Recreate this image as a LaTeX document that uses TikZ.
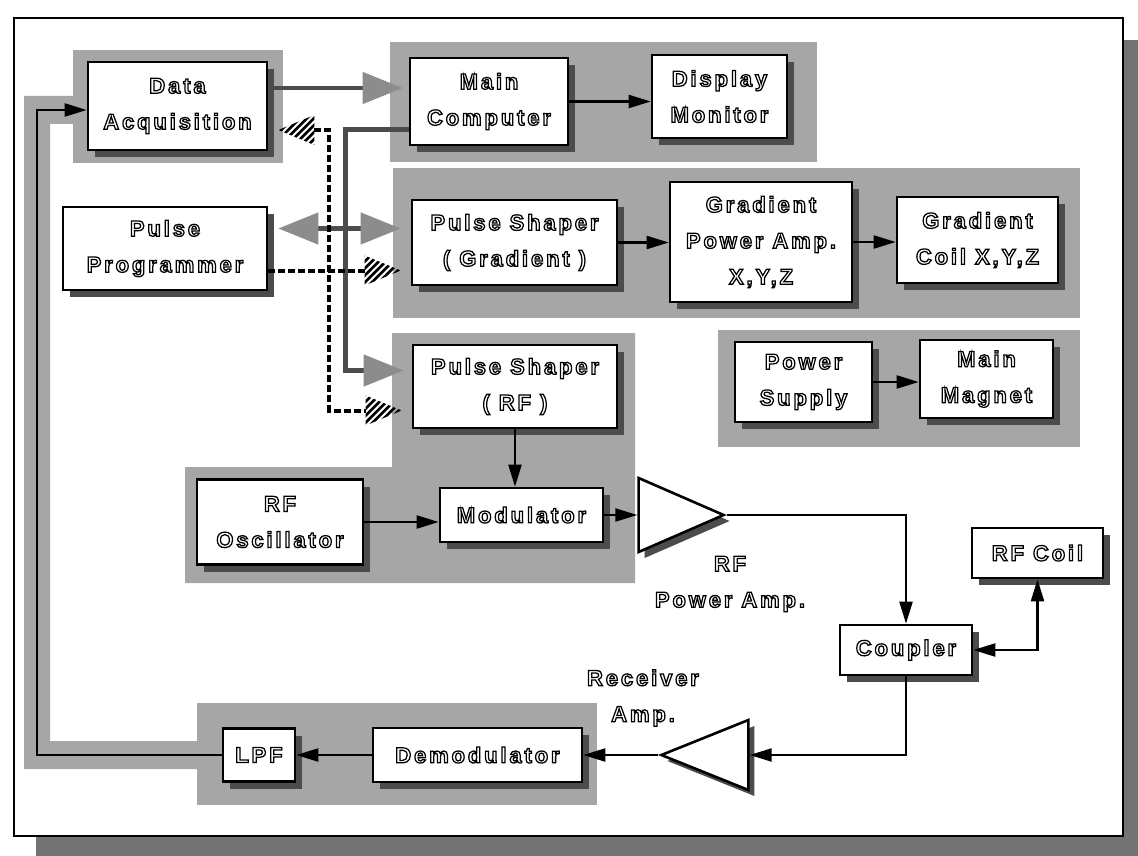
\documentclass[tikz,border=0pt]{standalone}
\usepackage{fontspec}
\setmainfont{Liberation Sans}
\newfontfamily\olfam{Liberation Sans}[LetterSpace=13]
\usetikzlibrary{arrows.meta, calc, shapes.geometric, shadows}

% hollow lettering: white fill, black stroke
\newcommand\olt[1]{\textcolor{white}{\special{pdf:literal direct 1 g 0 G 2 Tr 1.25 w}#1\special{pdf:literal direct 0 Tr}}}

\begin{document}
\begin{tikzpicture}[
      x=1pt, y=-1pt,
      blk/.style={
        draw, line width=2.6pt, fill=white, align=center, inner sep=0pt,
        font=\olfam\bfseries\fontsize{22}{36}\selectfont,
        general shadow={fill=black!70, shadow xshift=7pt, shadow yshift=-7pt}
      },
      amp/.style={
        isosceles triangle, isosceles triangle stretches, draw,
        line width=2.6pt, fill=white, inner sep=0pt,
        general shadow={fill=black!70, shadow xshift=6pt, shadow yshift=-6pt}
      },
      lbl/.style={align=center, inner sep=0pt, font=\olfam\bfseries\fontsize{22}{36}\selectfont},
      grp/.style={fill=black!35},
      wire/.style={line width=2.2pt},
      sbus/.style={line width=4.5pt, black!70},
      hbus/.style={line width=4pt, dash pattern=on 7pt off 3pt},
      sol/.tip={Triangle[length=22pt, width=13pt]},
      sarr/.tip={Triangle[length=40pt, width=31pt, color=black!45]},
      htip/.pic={
        \begin{scope}
          \clip (0,0) -- (-36,-15) -- (-36,15) -- cycle;
          \foreach \k in {-70,-63,...,0}
            \draw[line width=2.6pt] (\k,18) -- (\k+36,-18);
        \end{scope}
      }
    ]
    \useasboundingbox (0,0) rectangle (1138,856);

    % frame and its shadow
    \fill[black!55] (36,40) rectangle (1138,856);
    \draw[line width=2.6pt, fill=white] (14,18) rectangle (1123,836);

    % shaded groups
    \fill[grp] (73,50) rectangle (283,163);
    \fill[grp] (73,96) -- (24,96) -- (24,769) -- (197,769) -- (197,741)
      -- (50,741) -- (50,124) -- (73,124) -- cycle;
    \fill[grp] (390,42) rectangle (817,162);
    \fill[grp] (393,168) rectangle (1080,318);
    \fill[grp] (718,330) rectangle (1080,447);
    \fill[grp] (392,333) -- (635,333) -- (635,583) -- (185,583) -- (185,467)
      -- (392,467) -- cycle;
    \fill[grp] (197,703) rectangle (597,805);

    % blocks
    \node[blk, minimum width=179pt, minimum height=88pt] (daq)  at (177.5,106) {\olt{Data}\\\olt{Acquisition}};
    \node[blk, minimum width=158pt, minimum height=87pt] (mc)   at (489,101.5) {\olt{Main}\\\olt{Computer}};
    \node[blk, minimum width=135pt, minimum height=83pt] (dm)   at (719.5,96.5) {\olt{Display}\\\olt{Monitor}};
    \node[blk, minimum width=204pt, minimum height=83pt] (pp)   at (165,248.5) {\olt{Pulse}\\\olt{Programmer}};
    \node[blk, minimum width=205pt, minimum height=85pt] (psg)  at (514.5,242.5) {\olt{Pulse Shaper}\\\olt{( Gradient )}};
    \node[blk, minimum width=182pt, minimum height=120pt] (gpa) at (761,242) {\olt{Gradient}\\\olt{Power Amp.}\\\olt{X,Y,Z}};
    \node[blk, minimum width=161pt, minimum height=86pt] (gc)   at (977.5,240) {\olt{Gradient}\\\olt{Coil X,Y,Z}};
    \node[blk, minimum width=204pt, minimum height=83pt] (psrf) at (515,386.5) {\olt{Pulse Shaper}\\\olt{( RF )}};
    \node[blk, minimum width=137pt, minimum height=80pt] (ps)   at (803.5,382) {\olt{Power}\\\olt{Supply}};
    \node[blk, minimum width=133pt, minimum height=78pt] (mm)   at (986.5,379) {\olt{Main}\\\olt{Magnet}};
    \node[blk, minimum width=166pt, minimum height=85pt] (osc)  at (280,522) {\olt{RF}\\\olt{Oscillator}};
    \node[blk, minimum width=163pt, minimum height=54pt] (mod)  at (521.5,515) {\olt{Modulator}};
    \node[amp, minimum width=74pt, minimum height=85pt, anchor=apex] (rfa) at (727,515) {};
    \node[lbl] (rfal) at (730,584) {\olt{RF}\\\olt{Power Amp.}};
    \node[blk, minimum width=131pt, minimum height=50pt] (coil) at (1037.5,553) {\olt{RF Coil}};
    \node[blk, minimum width=132pt, minimum height=50pt] (cpl)  at (906,650) {\olt{Coupler}};
    \node[amp, shape border rotate=180, minimum width=70pt, minimum height=87pt, anchor=apex] (rxa) at (658,755) {};
    \node[lbl] (rxal) at (643,698) {\olt{Receiver}\\\olt{Amp.}};
    \node[blk, minimum width=209pt, minimum height=54pt] (dem)  at (477.5,755) {\olt{Demodulator}};
    \node[blk, minimum width=72pt, minimum height=53pt]  (lpf)  at (259,755) {\olt{LPF}};

    % signal paths
    \draw[sbus, -sarr] ($(daq.east)+(0,-18)$) -- ($(daq.east -| mc.west)+(-6,-18)$);
    \draw[wire, -sol] (mc.east) -- (mc.east -| dm.west);
    \draw[wire, -sol] (psg.east) -- (psg.east -| gpa.west);
    \draw[wire, -sol] (gpa.east) -- (gpa.east -| gc.west);
    \draw[wire, -sol] (ps.east) -- (ps.east -| mm.west);
    \draw[wire, -sol] (psrf.south) -- (psrf.south |- mod.north);
    \draw[wire, -sol] (osc.east) -- (osc.east -| mod.west);
    \draw[wire, -sol] (mod.east) -- (rfa.lower side);
    \draw[wire, -sol] (rfa.apex) -| (cpl.north);
    \draw[wire, sol-sol] (cpl.east) -| (coil.south);
    \draw[wire, -sol] (cpl.south) |- (rxa.lower side);
    \draw[wire, -sol] (rxa.apex) -- (dem.east);
    \draw[wire, -sol] (dem.west) -- (lpf.east);
    \coordinate (ret) at (37,755);
    \draw[wire, -sol] (lpf.west) -- (ret) |- ($(daq.west)+(0,4)$);

    % control buses
    \coordinate (sl) at ($(pp.east)+(0,-20)$);
    \coordinate (hl) at ($(pp.east)+(0,22)$);
    \coordinate (st) at ($(mc.west)+(-63,28)$);
    \coordinate (sb) at ($(st |- psrf.west)+(0,-16)$);
    \coordinate (ht) at ($(daq.east)+(61,24)$);
    \coordinate (hb) at ($(ht |- psrf.west)+(0,24)$);

    \draw[sbus, -sarr] ($(mc.west)+(0,28)$) -- (st) -- (sb) -- ($(sb -| psrf.west)+(-8,0)$);
    \draw[sbus, sarr-sarr, shorten <=10pt] (sl) -- ($(sl -| psg.west)+(-10,0)$);
    \draw[hbus] ($(ht -| daq.east)+(46,0)$) -- (ht) -- (hb) -- ($(hb -| psrf.west)+(-46,0)$);
    \draw[hbus] (hl) -- ($(hl -| psg.west)+(-46,0)$);
    \pic[rotate=180] at ($(ht -| daq.east)+(10,0)$) {htip};
    \pic at ($(hb -| psrf.west)+(-10,0)$) {htip};
    \pic at ($(hl -| psg.west)+(-10,0)$) {htip};
  \end{tikzpicture}
\end{document}
